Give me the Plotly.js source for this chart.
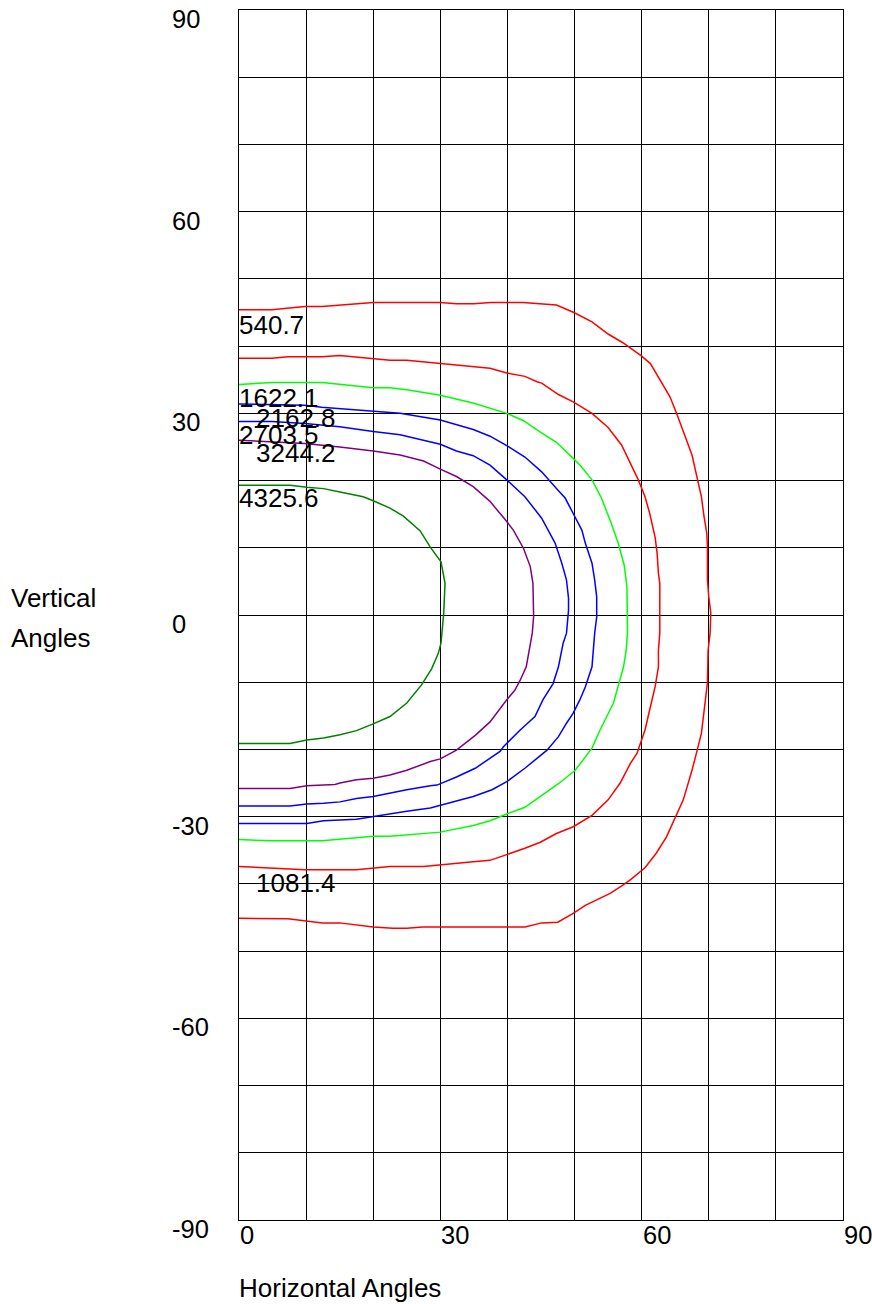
<!DOCTYPE html>
<html>
<head>
<meta charset="utf-8">
<script src="https://cdn.plot.ly/plotly-3.0.1.min.js"></script>
<style>html,body{margin:0;padding:0;background:#fff;}#chart{width:872px;height:1304px;}</style>
</head>
<body>
<div id="chart"></div>
<script>
// Isocandela contour values (labels)
const levels = ['540.7', '1081.4', '1622.1', '2162.8', '2703.5', '3244.2', '4325.6'];
const levelColors = ['#ff0000', '#ff0000', '#00ff00', '#0000ff', '#0000ff', '#800080', '#008000'];

// Contour 540.7
const c1x = [0,4.9,9.8,12.4,20.0,30.0,32.4,35.0,37.5,42.3,47.3,49.9,52.6,55.0,57.2,60.0,61.3,62.4,64.2,65.2,66.2,67.5,68.4,68.9,69.3,69.7,69.8,69.8,70.0,70.3,70.2,69.9,69.8,69.3,68.9,68.2,67.5,66.2,65.0,63.7,62.2,60.5,58.3,57.2,55.3,53.3,51.6,49.8,47.5,45.1,42.6,30.0,27.4,25.0,22.9,20.0,15.0,12.4,9.8,7.3,0];
const c1y = [45.4,45.4,45.9,45.9,46.5,46.5,46.3,46.3,46.5,46.5,46.1,45.0,43.6,41.8,40.5,38.5,37.4,35.6,32.5,30.0,27.3,23.8,19.8,17.6,14.6,12.2,10.2,5.2,2.7,0.3,-2.7,-5.2,-10.1,-14.1,-17.6,-20.4,-23.1,-27.5,-30.2,-33.0,-35.4,-37.6,-39.4,-40.2,-41.4,-42.4,-43.2,-44.4,-45.7,-45.8,-46.4,-46.4,-46.4,-46.6,-46.6,-46.4,-45.8,-45.8,-45.5,-45.2,-45.1];

// Contour 1081.4
const c2x = [0,4.9,7.3,12.4,15.0,20.0,22.5,25.0,30.0,37.4,39.9,42.6,44.4,45.1,47.6,49.8,52.6,55.0,57.0,58.3,59.5,60.5,61.2,62.0,62.3,62.5,62.7,62.7,62.5,62.5,62.0,61.2,60.5,59.3,58.3,56.8,55.0,52.6,49.8,47.3,44.9,42.6,39.9,37.4,34.9,30.0,27.5,22.5,20.0,17.5,9.8,7.3,0];
const c2y = [38.2,38.2,38.4,38.4,38.6,38.2,37.9,37.9,37.4,36.7,36.0,35.5,34.7,34.5,32.8,31.7,30.0,27.9,25.3,22.6,20.1,17.6,15.1,11.6,9.2,6.2,4.7,-2.7,-5.2,-7.7,-10.7,-14.1,-17.1,-20.6,-22.1,-25.0,-27.5,-29.8,-31.5,-32.5,-33.8,-34.7,-35.6,-36.5,-36.7,-37.2,-37.4,-37.4,-37.7,-37.9,-37.9,-37.8,-37.4];

// Contour 1622.1
const c3x = [0,4.9,12.4,15.0,20.0,22.5,25.0,30.0,35.0,39.9,42.4,44.9,47.3,49.8,50.8,52.6,54.0,55.3,56.5,57.4,57.8,57.9,57.7,57.3,56.5,55.8,54.8,53.8,52.6,51.3,50.1,47.6,45.4,42.6,39.9,37.4,34.9,30.0,22.5,20.0,12.4,4.9,0];
const c3y = [34.3,34.6,34.6,34.3,33.8,33.8,33.5,32.7,31.5,30.0,28.9,27.2,25.7,23.3,22.3,20.1,17.4,14.1,10.7,7.4,4.2,-2.3,-5.2,-7.7,-10.7,-13.1,-15.1,-17.1,-19.8,-21.6,-23.1,-25.1,-26.6,-28.6,-29.6,-30.6,-31.3,-32.3,-32.9,-32.9,-33.6,-33.6,-33.4];

// Contour 2162.8
const c4x = [0,9.8,12.3,20.0,24.0,30.0,32.4,34.9,37.4,39.9,42.6,43.9,45.1,47.3,48.6,49.8,51.1,51.6,52.6,53.0,53.3,53.3,53.0,52.6,51.6,50.8,49.8,48.8,47.6,45.9,44.1,42.6,39.9,37.7,34.9,32.7,30.0,28.5,25.0,20.0,17.5,12.6,10.1,0];
const c4y = [31.4,31.2,30.9,30.3,30.0,29.0,28.3,27.6,26.6,25.2,23.5,22.3,21.3,18.8,17.4,15.1,12.6,10.7,7.7,5.2,2.7,-0.3,-2.7,-7.7,-10.7,-12.6,-14.6,-16.1,-18.1,-20.1,-21.6,-22.8,-24.8,-26.0,-27.0,-27.6,-28.3,-28.7,-29.2,-30.0,-30.4,-30.6,-31.0,-31.0];

// Contour 2703.5
const c5x = [0,4.9,9.8,15.0,20.0,24.0,30.0,32.4,34.9,37.4,39.9,42.6,45.1,47.1,48.1,48.8,49.1,49.1,48.8,48.3,48.1,47.6,46.8,45.3,44.1,41.9,39.4,38.9,35.2,32.4,29.5,28.5,25.0,22.5,20.0,17.5,15.05,12.6,10.1,7.6,0];
const c5y = [28.8,28.8,28.5,28.0,27.3,26.8,25.4,24.4,23.7,22.3,20.1,17.6,14.4,10.7,7.7,5.2,2.5,0.7,-2.7,-4.2,-5.2,-7.7,-10.2,-12.6,-15.1,-17.1,-19.6,-20.3,-22.8,-24.1,-25.3,-25.4,-26.0,-26.5,-27.0,-27.3,-27.8,-28.0,-28.1,-28.4,-28.4];

// Contour 3244.2
const c6x = [0,4.9,9.8,15.0,20.0,24.0,27.5,30.0,32.4,34.9,37.4,39.9,40.9,42.4,43.4,43.8,43.9,43.9,43.7,43.2,42.8,41.9,41.1,39.9,38.6,37.4,35.2,32.4,30.0,28.5,25.0,22.5,20.0,17.5,15.05,14.3,10.1,7.6,0];
const c6y = [26.0,25.8,25.5,25.0,24.4,23.8,22.9,21.7,20.6,19.1,16.9,13.9,12.6,9.9,7.2,4.7,2.2,-0.2,-2.7,-5.2,-7.7,-9.7,-11.2,-12.6,-14.4,-15.9,-17.9,-20.1,-21.4,-21.8,-23.1,-23.8,-24.3,-24.5,-25.0,-25.2,-25.4,-25.8,-25.8];

// Contour 4325.6
const c7x = [0,7.6,10.1,12.6,15.05,18.5,20.0,22.5,24.5,27.0,28.5,30.1,30.7,30.5,30.1,29.7,28.7,27.2,25.0,22.5,20.0,17.5,15.05,12.6,10.1,7.6,0];
const c7y = [19.3,19.3,19.0,18.8,18.3,17.6,17.0,15.9,14.7,12.5,10.1,7.9,4.7,0.2,-4.2,-5.7,-8.0,-10.4,-13.1,-15.1,-16.2,-17.2,-17.8,-18.3,-18.6,-19.1,-19.1];

// Where each contour's value label sits (data units)
const labelX = [0, 2.5, 0, 2.5, 0, 2.5, 0];
const labelY = [43.1, -39.8, 32.3, 29.3, 26.8, 24.1, 17.4];

// Axis ticks
const xTickVals = [0, 30, 60, 90];
const xTickText = ['0', '30', '60', '90'];
const yTickVals = [90, 60, 30, 0, -30, -60, -90];
const yTickText = ['90', '60', '30', '0', '-30', '-60', '-90'];
const xTitle = 'Horizontal Angles';
const yTitleLines = ['Vertical', 'Angles'];

const FONT = '"Liberation Sans", Arial, Helvetica, sans-serif';
const FS = 26;
const TICK_FS = 25.5;

const xs = [c1x, c2x, c3x, c4x, c5x, c6x, c7x];
const ys = [c1y, c2y, c3y, c4y, c5y, c6y, c7y];

const traces = xs.map((x, i) => ({
  type: 'scatter', mode: 'lines', x: x, y: ys[i], name: levels[i],
  line: {color: levelColors[i], width: 1.5}, hoverinfo: 'skip'
}));

const annotations = [];
levels.forEach((t, i) => annotations.push({
  xref: 'x', yref: 'y', x: labelX[i], y: labelY[i], text: t, showarrow: false,
  xanchor: 'left', yanchor: 'middle', borderpad: 0, borderwidth: 0,
  font: {family: FONT, size: FS, color: '#000'}
}));
xTickVals.forEach((v, i) => annotations.push({
  xref: 'x', yref: 'paper', x: v, y: 0, text: xTickText[i], showarrow: false,
  xanchor: 'left', yanchor: 'top', xshift: 1, yshift: -1, borderpad: 0, borderwidth: 0,
  font: {family: FONT, size: TICK_FS, color: '#000'}
}));
yTickVals.forEach((v, i) => annotations.push({
  xref: 'paper', yref: 'y', x: 0, y: v, text: yTickText[i], showarrow: false,
  xanchor: 'left', yanchor: 'middle', xshift: -67, yshift: -9, borderpad: 0, borderwidth: 0,
  font: {family: FONT, size: TICK_FS, color: '#000'}
}));
annotations.push({
  xref: 'paper', yref: 'paper', x: 0, y: 0, text: xTitle, showarrow: false,
  xanchor: 'left', yanchor: 'middle', yshift: -67.5, borderpad: 0, borderwidth: 0,
  font: {family: FONT, size: FS, color: '#000'}
});
annotations.push({
  xref: 'paper', yref: 'y', x: 0, y: 0, text: yTitleLines[0], showarrow: false,
  xanchor: 'left', yanchor: 'middle', xshift: -228, yshift: 17.5, borderpad: 0, borderwidth: 0,
  font: {family: FONT, size: FS, color: '#000'}
});
annotations.push({
  xref: 'paper', yref: 'y', x: 0, y: 0, text: yTitleLines[1], showarrow: false,
  xanchor: 'left', yanchor: 'middle', xshift: -228, yshift: -23, borderpad: 0, borderwidth: 0,
  font: {family: FONT, size: FS, color: '#000'}
});

const layout = {
  width: 872, height: 1304,
  margin: {l: 239, r: 29, t: 10, b: 84, pad: 0},
  paper_bgcolor: '#fff', plot_bgcolor: '#fff',
  showlegend: false,
  font: {family: FONT, size: FS, color: '#000'},
  xaxis: {
    range: [0, 90], tickmode: 'linear', tick0: 0, dtick: 10,
    showticklabels: false, ticks: '', showgrid: true, gridcolor: '#000', gridwidth: 1,
    zeroline: false, showline: true, linecolor: '#000', linewidth: 1, mirror: true,
    fixedrange: true
  },
  yaxis: {
    range: [-90, 90], tickmode: 'linear', tick0: 0, dtick: 10,
    showticklabels: false, ticks: '', showgrid: true, gridcolor: '#000', gridwidth: 1,
    zeroline: false, showline: true, linecolor: '#000', linewidth: 1, mirror: true,
    fixedrange: true
  },
  annotations: annotations
};

Plotly.newPlot('chart', traces, layout, {staticPlot: true, displayModeBar: false});
</script>
</body>
</html>
